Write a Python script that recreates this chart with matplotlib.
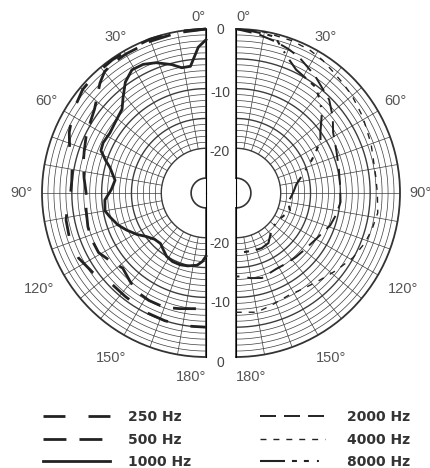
import numpy as np
import matplotlib
matplotlib.use("Agg")
import matplotlib.pyplot as plt
from matplotlib.lines import Line2D

# ---------------- data ----------------
# left half (degrees from front, dB)
ang_250 = [0, 10, 20, 25, 35, 43, 50, 58, 66, 73, 80, 85, 90, 95, 101, 108, 117, 125, 133, 142, 153, 162, 170, 180]
db_250 = [0, 0, -0.05, -0.2, -0.2, -0.3, -0.5, -1.3, -2.4, -3.6, -4.7, -4.9, -4.8, -4.2, -3.6, -3.4, -3.5, -4.3, -5.5, -5.5, -5.1, -5.0, -4.9, -5.0]

ang_500 = [0, 10, 20, 30, 36, 40, 44, 48, 53, 59, 65, 71, 76, 83, 90, 98, 106, 112, 119, 126, 132, 139, 145, 152, 160, 167, 174, 180]
db_500 = [0, -0.2, -0.4, -0.6, -0.7, -1.0, -1.9, -3.0, -4.1, -4.8, -5.3, -5.9, -6.3, -6.9, -7.4, -7.2, -6.9, -6.8, -6.9, -7.9, -8.7, -8.0, -7.3, -7.1, -7.1, -7.6, -8.0, -8.0]

ang_1000 = [0, 3, 7, 11, 15, 21, 26, 31, 36, 41, 45, 52, 58, 64, 68, 72, 75, 82, 88, 94, 100, 104, 110, 115, 121, 126, 132, 138, 143, 148, 154, 160, 166, 173, 177, 180]
db_1000 = [-1.8, -3.0, -6.1, -6.1, -5.2, -4.1, -3.5, -3.4, -4.5, -6.3, -7.6, -8.2, -8.5, -8.3, -8.5, -9.8, -10.8, -12.1, -11.6, -10.5, -10.3, -10.9, -11.8, -12.8, -14.0, -15.1, -15.9, -16.1, -15.6, -15.0, -14.7, -14.7, -14.9, -15.3, -16.0, -16.9]

# right half
ang_2000 = [0, 8, 15, 20, 25, 34, 45, 52, 58, 68, 77, 86, 95, 102, 109, 121, 130, 137, 145, 152, 163, 170, 177, 180]
db_2000 = [0, -0.6, -1.3, -1.8, -2.4, -3.8, -5.4, -6.9, -8.3, -9.3, -9.8, -10.0, -9.9, -10.3, -10.8, -12.1, -12.6, -12.8, -13.0, -13.1, -12.6, -13.0, -13.5, -13.5]

ang_4000 = [0, 10, 20, 27, 33, 38, 44, 50, 59, 70, 83, 90, 98, 105, 111, 119, 128, 137, 145, 153, 162, 170, 180]
db_4000 = [0, -0.1, -0.3, -0.5, -0.9, -1.4, -1.8, -2.1, -2.7, -3.4, -3.9, -3.8, -3.5, -3.9, -4.3, -5.1, -6.3, -7.3, -7.9, -8.2, -7.8, -7.2, -7.5]

ang_8000 = [0, 5, 10, 14, 18, 22, 26, 32, 37, 42, 47, 54, 58, 63, 68, 75, 82, 88, 92, 100, 108, 115, 125, 133, 140, 147, 155, 162, 170, 180]
db_8000 = [0, -0.2, -0.4, -0.5, -2.2, -3.5, -4.5, -5.0, -5.3, -6.5, -7.8, -10.0, -10.8, -12.5, -14.1, -16.0, -17.3, -17.8, -18.1, -18.6, -18.0, -18.6, -19.2, -19.0, -18.5, -17.5, -17.3, -17.4, -17.5, -17.4]

angle_ticks = [0, 30, 60, 90, 120, 150, 180]
angle_labels = ["0°", "30°", "60°", "90°", "120°", "150°", "180°"]
level_ticks = [0, -10, -20]
level_labels = ["0", "-10", "-20"]
legend_left = ["250 Hz", "500 Hz", "1000 Hz"]
legend_right = ["2000 Hz", "4000 Hz", "8000 Hz"]

# ---------------- styles ----------------
plt.rcParams['font.family'] = ['Liberation Sans', 'DejaVu Sans']
plt.rcParams['lines.scale_dashes'] = False
INK = '#222222'
GRID = '#3c3c3c'
STY = {
    '250': dict(color=INK, lw=2.0, dashes=(15.8, 16.6), dash_capstyle='butt'),
    '500': dict(color=INK, lw=2.0, dashes=(16.5, 9.4), dash_capstyle='butt'),
    '1000': dict(color=INK, lw=2.0, ls='-'),
    '2000': dict(color=INK, lw=1.4, dashes=(11.5, 5.8), dash_capstyle='butt'),
    '4000': dict(color=INK, lw=1.0, dashes=(4.3, 5.0), dash_capstyle='butt'),
    '8000': dict(color=INK, lw=1.5, dashes=(18, 5, 3.6, 5, 3.6, 5.8, 1.4, 5.8), dash_capstyle='butt'),
}
TICK_PADS = [1.6, 4.5, 7.4, 8.1, 13.5, 11.7, 7.4]   # label distance per angle tick (pt)

W, H = 431, 468
fig = plt.figure(figsize=(W / 100, H / 100), dpi=100)
R = 164
CY = 193
RMIN = -27.5
NOTCH = -25


def make_half(cx, direction):
    # square box of side 2R; the half-disk wedge is centred in it
    left = cx - 1.5 * R if direction == 1 else cx - 0.5 * R
    ax = fig.add_axes([left / W, (H - CY - R) / H, 2 * R / W, 2 * R / H], projection='polar')
    ax.set_theta_zero_location('N')
    ax.set_theta_direction(direction)
    ax.set_thetamin(0)
    ax.set_thetamax(180)
    ax.set_ylim(RMIN, 0)
    ax.grid(False)
    ax.set_yticks([])
    ax.set_xticks(np.deg2rad(angle_ticks), angle_labels)
    ax.tick_params(axis='x', labelsize=10.5, labelcolor='#555555', length=0)
    ticks = ax.xaxis.get_major_ticks()
    for t, p in zip(ticks, TICK_PADS):
        t.set_pad(p)
    side = 'right' if direction == 1 else 'left'
    ticks[0].label1.set_ha(side)
    ticks[-1].label1.set_ha(side)
    for s in ['start', 'end', 'inner']:
        ax.spines[s].set_visible(False)
    ax.spines['polar'].set_linewidth(1.3)
    ax.spines['polar'].set_color('#333333')
    th = np.linspace(0, np.pi, 361)
    for d in range(-20, 0):
        ax.plot(th, np.full_like(th, d), color=GRID,
                lw=1.0 if d % 5 == 0 else 0.5, zorder=1)
    for a in range(10, 180, 10):
        ax.plot([np.deg2rad(a)] * 2, [-20, 0], color=GRID, lw=0.5, zorder=1)
    ax.plot([0, 0], [NOTCH, 0], color='#333333', lw=1.2, clip_on=False, zorder=2)
    ax.plot([np.pi, np.pi], [NOTCH, 0], color='#333333', lw=1.2, clip_on=False, zorder=2)
    ax.plot(th, np.full_like(th, NOTCH), color='#333333', lw=1.2, clip_on=False, zorder=2)
    return ax


axL = make_half(206, 1)
axR = make_half(236, -1)

axL.plot(np.deg2rad(ang_250), db_250, **STY['250'], zorder=3, clip_on=False)
axL.plot(np.deg2rad(ang_500), db_500, **STY['500'], zorder=3, clip_on=False)
axL.plot(np.deg2rad(ang_1000), db_1000, **STY['1000'], zorder=3, clip_on=False)
axR.plot(np.deg2rad(ang_2000), db_2000, **STY['2000'], zorder=3, clip_on=False)
axR.plot(np.deg2rad(ang_4000), db_4000, **STY['4000'], zorder=3, clip_on=False)
axR.plot(np.deg2rad(ang_8000), db_8000, **STY['8000'], zorder=3, clip_on=False)

# radial level labels in the gap
for v, lab in zip(level_ticks, level_labels):
    dy_top = -1 if v == 0 else -4
    axL.annotate(lab, xy=(0, v), xytext=(14 * 0.72, dy_top * 0.72), textcoords='offset points',
                 ha='center', va='center', fontsize=10, color='#444444', annotation_clip=False)
    axL.annotate(lab, xy=(np.pi, v), xytext=(14 * 0.72, -6 * 0.72), textcoords='offset points',
                 ha='center', va='center', fontsize=10, color='#444444', annotation_clip=False)

# legends
hl = [Line2D([], [], **STY[k]) for k in ['250', '500', '1000']]
hr = [Line2D([], [], **STY[k]) for k in ['2000', '4000', '8000']]
common = dict(loc='upper left', frameon=False, labelspacing=0.62, borderpad=0, borderaxespad=0,
              prop={'family': 'DejaVu Sans', 'weight': 'bold', 'size': 10}, labelcolor='#333333')
fig.legend(hl, legend_left, bbox_to_anchor=(43 / W, 1 - 410 / H), handlelength=4.82,
           handletextpad=1.3, **common)
fig.legend(hr, legend_right, bbox_to_anchor=(260 / W, 1 - 410 / H), handlelength=4.68,
           handletextpad=1.58, **common)

fig.savefig('out.png', dpi=100, facecolor='white')
